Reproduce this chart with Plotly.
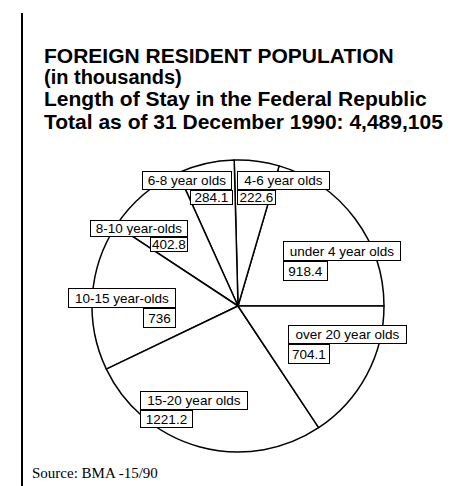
import plotly.graph_objects as go

# ---- data ----
categories = ["under 4 year olds", "4-6 year olds", "6-8 year olds", "8-10 year-olds",
              "10-15 year-olds", "15-20 year olds", "over 20 year olds"]
values = [918.4, 222.6, 284.1, 402.8, 736, 1221.2, 704.1]
title_lines = ["FOREIGN RESIDENT POPULATION", "(in thousands)",
               "Length of Stay in the Federal Republic",
               "Total as of 31 December 1990: 4,489,105"]
source_text = "Source: BMA -15/90"

W, H = 455, 486

def px(x):
    return x / W

def py(y):
    return 1 - y / H

# label box layout (pixels): name box (x0, x1, y0, y1), value box (x0, x1, y1)
label_layout = {
    "under 4 year olds": ((275, 393, 233, 253), (275, 320, 273)),
    "4-6 year olds": ((229, 322, 163, 182), (229, 268, 197)),
    "6-8 year olds": ((134, 224, 163, 182), (182, 225, 197)),
    "8-10 year-olds": ((82, 180, 212, 229), (142, 180, 244)),
    "10-15 year-olds": ((60, 168, 280, 300), (135, 168, 320)),
    "15-20 year olds": ((132, 240, 383, 402), (132, 185, 420)),
    "over 20 year olds": ((280, 399, 317, 336), (280, 322, 356)),
}

# the first slice starts at 3 o'clock and the slices run counter-clockwise
total = sum(values)
start_rotation = 90 - 360 * values[0] / total

fig = go.Figure()
fig.add_trace(go.Pie(
    labels=categories,
    values=values,
    sort=False,
    direction="counterclockwise",
    rotation=start_rotation,
    textinfo="none",
    marker=dict(colors=["white"] * len(values), line=dict(color="black", width=1.5)),
    domain=dict(x=[px(84), px(376)], y=[py(444), py(152)]),
    showlegend=False,
))

annotations = []
# title
title_y = [47, 69, 91, 113]
for i, (t, yy) in enumerate(zip(title_lines, title_y)):
    annotations.append(dict(
        x=px(34), y=py(yy), xref="paper", yref="paper", xanchor="left", yanchor="middle",
        text=f"<b>{t}</b>", showarrow=False,
        font=dict(family="Liberation Sans, Arial", size=21 if i != 1 else 20, color="black"),
    ))

lbl_font = dict(family="Liberation Sans, Arial", size=13.5, color="black")
for cat, val in zip(categories, values):
    (nx0, nx1, ny0, ny1), (vx0, vx1, vy1) = label_layout[cat]
    annotations.append(dict(
        x=px(nx0), y=py(ny0), xref="paper", yref="paper", xanchor="left", yanchor="top",
        width=nx1 - nx0 - 4, height=ny1 - ny0 - 4, align="center", valign="middle",
        text=cat, showarrow=False, font=lbl_font,
        bgcolor="white", bordercolor="black", borderwidth=1, borderpad=1,
    ))
    annotations.append(dict(
        x=px(vx0), y=py(ny1), xref="paper", yref="paper", xanchor="left", yanchor="top",
        width=vx1 - vx0 - 4, height=vy1 - ny1 - 4, align="center", valign="middle",
        text=f"{val:g}", showarrow=False, font=lbl_font,
        bgcolor="white", bordercolor="black", borderwidth=1, borderpad=1,
    ))

annotations.append(dict(
    x=px(22), y=py(465), xref="paper", yref="paper", xanchor="left", yanchor="middle",
    text=source_text, showarrow=False,
    font=dict(family="Liberation Serif, Times New Roman", size=15, color="black"),
))

shapes = [
    dict(type="line", xref="paper", yref="paper", x0=px(14), x1=px(14), y0=py(5), y1=py(486),
         line=dict(color="black", width=2)),
]

fig.update_layout(
    width=W, height=H,
    margin=dict(l=0, r=0, t=0, b=0),
    paper_bgcolor="white", plot_bgcolor="white",
    annotations=annotations, shapes=shapes,
)

fig.write_html("out.html")
